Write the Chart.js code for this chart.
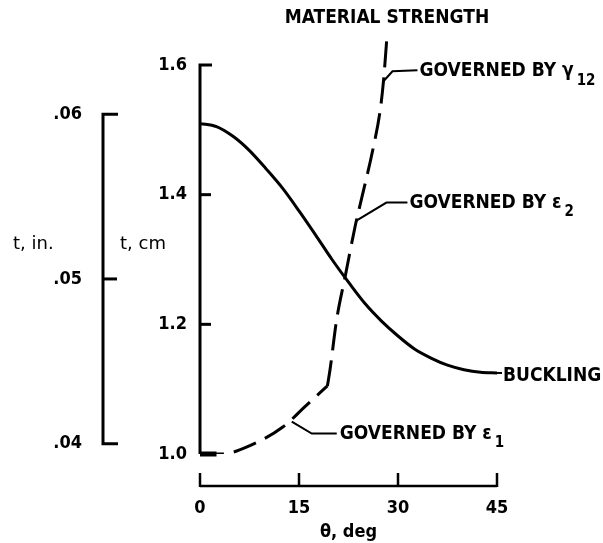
<!DOCTYPE html>
<html>
<head>
<meta charset="utf-8">
<script src="https://cdn.jsdelivr.net/npm/chart.js@4"></script>
<style>
  html, body { margin: 0; padding: 0; background: #fff; }
  #chart { display: block; }
</style>
</head>
<body>
<canvas id="chart" width="603" height="543"></canvas>
<script>
// theta in deg, thickness t in cm
const bucklingTheta = [0, 2.5, 5, 7.5, 10, 12.5, 15, 17.5, 20, 22.5, 25, 27.5, 30, 32.5, 35, 37.5, 40, 42.5, 45];
const bucklingT = [1.51, 1.505, 1.49, 1.468, 1.44, 1.41, 1.375, 1.338, 1.30, 1.265, 1.232, 1.205, 1.182, 1.162, 1.148, 1.137, 1.130, 1.126, 1.125];

// material strength, governed by eps1 (lower branch)
const eps1Theta = [0, 3.3, 7.8, 12.6, 15.9, 19.3];
const eps1T = [1.0, 1.0, 1.014, 1.042, 1.073, 1.105];

// material strength, governed by eps2 / gamma12 (steep branch)
const steepTheta = [19.3, 19.7, 20.7, 22.0, 23.5, 24.2, 26.2, 27.3, 27.8, 28.3];
const steepT = [1.105, 1.13, 1.207, 1.274, 1.351, 1.382, 1.47, 1.53, 1.575, 1.64];

const thetaTicks = [0, 15, 30, 45];
const cmTicks = [1.0, 1.2, 1.4, 1.6];
const inchTicks = [0.04, 0.05, 0.06];

const CM_PER_IN = 2.54 * 10; // the figure's "cm" scale lines up with inches x 25.4
const FONT = "'Liberation Sans Narrow', 'DejaVu Sans Condensed', 'Liberation Sans', sans-serif";
const ink = '#000';

function pts(xs, ys) {
    return xs.map((v, i) => ({ x: v, y: ys[i] }));
}

// labels with a leader line, anchored on a point of the curve
function note(ctx, x, y, text, sub) {
    ctx.font = 'bold 19px ' + FONT;
    ctx.textAlign = 'left';
    ctx.textBaseline = 'middle';
    ctx.fillText(text, x, y);
    if (sub) {
        const w = ctx.measureText(text).width;
        ctx.font = 'bold 15px ' + FONT;
        ctx.fillText(sub, x + w + 3, y + 10);
    }
}

function leader(ctx, path) {
    ctx.lineWidth = 2;
    ctx.beginPath();
    ctx.moveTo(path[0][0], path[0][1]);
    for (let i = 1; i < path.length; i++) ctx.lineTo(path[i][0], path[i][1]);
    ctx.stroke();
}

const paperAxes = {
    id: 'paperAxes',
    afterDraw(chart) {
        const { ctx, chartArea, scales } = chart;
        const x = scales.x, y = scales.y, yin = scales.yin;
        ctx.save();
        ctx.strokeStyle = ink;
        ctx.fillStyle = ink;

        // cm axis
        const ax = chartArea.left;
        const top = y.getPixelForValue(1.6), bot = y.getPixelForValue(1.0);
        ctx.lineWidth = 3;
        ctx.beginPath();
        ctx.moveTo(ax + 12, top);
        ctx.lineTo(ax, top);
        ctx.lineTo(ax, bot);
        ctx.stroke();
        [1.2, 1.4].forEach(v => {
            const py = y.getPixelForValue(v);
            ctx.beginPath();
            ctx.moveTo(ax, py);
            ctx.lineTo(ax + 11, py);
            ctx.stroke();
        });
        ctx.lineWidth = 5;
        ctx.beginPath();
        ctx.moveTo(ax, bot);
        ctx.lineTo(x.getPixelForValue(2.5), bot);
        ctx.stroke();

        // inch bracket
        const bx = yin.right;
        ctx.lineWidth = 3;
        ctx.beginPath();
        ctx.moveTo(bx + 15, yin.getPixelForValue(0.06));
        ctx.lineTo(bx, yin.getPixelForValue(0.06));
        ctx.lineTo(bx, yin.getPixelForValue(0.04));
        ctx.lineTo(bx + 15, yin.getPixelForValue(0.04));
        ctx.stroke();
        ctx.beginPath();
        ctx.moveTo(bx, yin.getPixelForValue(0.05));
        ctx.lineTo(bx + 14, yin.getPixelForValue(0.05));
        ctx.stroke();

        // theta axis, set below the plot
        const ay = chartArea.bottom + 32;
        ctx.lineWidth = 2.5;
        ctx.beginPath();
        ctx.moveTo(x.getPixelForValue(0), ay);
        ctx.lineTo(x.getPixelForValue(45), ay);
        ctx.stroke();
        thetaTicks.forEach(v => {
            const px = x.getPixelForValue(v);
            ctx.beginPath();
            ctx.moveTo(px, ay + 1);
            ctx.lineTo(px, ay - 13);
            ctx.stroke();
        });

        // axis names
        ctx.font = '18px DejaVu Sans';
        ctx.textAlign = 'left';
        ctx.textBaseline = 'middle';
        ctx.fillText('t, in.', 13, 244);
        ctx.fillText('t, cm', 120, 244);

        // curve notes
        ctx.font = 'bold 19px ' + FONT;
        ctx.textAlign = 'center';
        ctx.fillText('MATERIAL STRENGTH', 387, 18);

        let px = x.getPixelForValue(27.8), py = y.getPixelForValue(1.575);
        leader(ctx, [[px, py], [px + 9, py - 10], [px + 34, py - 11]]);
        note(ctx, px + 36, py - 10, 'GOVERNED BY \u03b3', '12');

        px = x.getPixelForValue(23.7); py = y.getPixelForValue(1.36);
        leader(ctx, [[px, py], [px + 30, py - 18], [px + 51, py - 18]]);
        note(ctx, px + 53, py - 18, 'GOVERNED BY \u03b5', '2');

        px = x.getPixelForValue(13.9); py = y.getPixelForValue(1.05);
        leader(ctx, [[px, py], [px + 20, py + 12], [px + 45, py + 12]]);
        note(ctx, px + 48, py + 12, 'GOVERNED BY \u03b5', '1');

        px = x.getPixelForValue(45); py = y.getPixelForValue(1.125);
        leader(ctx, [[px, py], [px + 5, py]]);
        note(ctx, px + 6, py + 3, 'BUCKLING');

        ctx.restore();
    }
};

Chart.defaults.font.family = FONT;
Chart.defaults.color = ink;

const ctx = document.getElementById('chart').getContext('2d');
new Chart(ctx, {
    type: 'line',
    data: {
        datasets: [
            {
                label: 'Buckling',
                data: pts(bucklingTheta, bucklingT),
                borderColor: ink,
                borderWidth: 3,
                pointRadius: 0,
                cubicInterpolationMode: 'monotone'
            },
            {
                label: 'Governed by eps1',
                data: pts(eps1Theta, eps1T),
                borderColor: ink,
                borderWidth: 3,
                borderDash: [24, 10],
                pointRadius: 0,
                cubicInterpolationMode: 'monotone'
            },
            {
                label: 'Governed by eps2 / gamma12',
                data: pts(steepTheta, steepT),
                borderColor: ink,
                borderWidth: 3,
                borderDash: [26, 10],
                pointRadius: 0,
                cubicInterpolationMode: 'monotone',
                clip: false
            }
        ]
    },
    options: {
        responsive: false,
        animation: false,
        devicePixelRatio: 1,
        layout: { padding: { top: 65, right: 106, bottom: 0, left: 0 } },
        plugins: { legend: { display: false }, tooltip: { enabled: false } },
        scales: {
            x: {
                type: 'linear',
                min: 0,
                max: 45,
                afterBuildTicks: s => { s.ticks = thetaTicks.map(v => ({ value: v })); },
                afterFit: s => { s.height = 89; },
                grid: { display: false, drawTicks: false },
                border: { display: false },
                ticks: { padding: 44, font: { size: 18, weight: 'bold' } },
                title: { display: true, text: '\u03b8, deg', font: { size: 18, weight: 'bold' }, padding: { top: 0, bottom: 0 } }
            },
            y: {
                position: 'left',
                weight: 0,
                min: 1.0,
                max: 1.6,
                afterBuildTicks: s => { s.ticks = cmTicks.map(v => ({ value: v })); },
                afterFit: s => { s.width = 97; },
                grid: { display: false, drawTicks: false },
                border: { display: false },
                ticks: { padding: 13, font: { size: 18, weight: 'bold' }, callback: v => v.toFixed(1) }
            },
            yin: {
                position: 'left',
                weight: 1,
                min: 1.0 / CM_PER_IN,
                max: 1.6 / CM_PER_IN,
                afterBuildTicks: s => { s.ticks = inchTicks.map(v => ({ value: v })); },
                afterFit: s => { s.width = 103; },
                grid: { display: false, drawTicks: false },
                border: { display: false },
                ticks: { padding: 21, font: { size: 18, weight: 'bold' }, callback: v => v.toFixed(2).replace(/^0/, '') }
            }
        }
    },
    plugins: [paperAxes]
});
</script>
</body>
</html>
